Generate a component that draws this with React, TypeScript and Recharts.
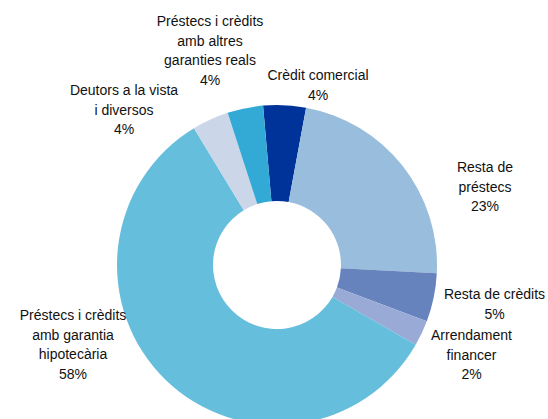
import { PieChart, Pie, Cell } from 'recharts'

const categories = [
  'Crèdit comercial',
  'Resta de préstecs',
  'Resta de crèdits',
  'Arrendament financer',
  'Préstecs i crèdits amb garantia hipotecària',
  'Deutors a la vista i diversos',
  'Préstecs i crèdits amb altres garanties reals'
]
const shares = [4.3, 22.9, 4.9, 2.6, 58.0, 3.7, 3.6]
const shareLabels = ['4%', '23%', '5%', '2%', '58%', '4%', '4%']
const labelLines = [
  ['Crèdit comercial'],
  ['Resta de', 'préstecs'],
  ['Resta de crèdits'],
  ['Arrendament', 'financer'],
  ['Préstecs i crèdits', 'amb garantia', 'hipotecària'],
  ['Deutors a la vista', 'i diversos'],
  ['Préstecs i crèdits', 'amb altres', 'garanties reals']
]

const colors = ['#003399', '#99bddc', '#6683bd', '#99aad6', '#66bedd', '#ccd6e9', '#33aad5']

// label anchors, relative to the pie centre (first line centre)
const labelOffsets: [number, number][] = [
  [41, -190],
  [208, -98],
  [217.5, 29],
  [194.5, 70],
  [-204, 50],
  [-153, -175],
  [-67, -244]
]

const LINE_H = 19.5

const data = categories.map((name, i) => ({ name, value: shares[i] }))

function renderLabel(props: any) {
  const { cx, cy, index } = props
  const [dx, dy] = labelOffsets[index]
  const lines = [...labelLines[index], shareLabels[index]]
  const x = cx + dx
  const y0 = cy + dy + 5
  return (
    <text
      key={`lbl-${index}`}
      x={x}
      y={y0}
      textAnchor="middle"
      fill="#111"
      fontSize={14}
      fontFamily="'Liberation Sans', Arial, sans-serif"
    >
      {lines.map((l, k) => (
        <tspan key={k} x={x} y={y0 + k * LINE_H}>
          {l}
        </tspan>
      ))}
    </text>
  )
}

export default function App() {
  return (
    <div style={{ position: 'fixed', left: 0, top: 0, background: '#fff' }}>
      <PieChart width={548} height={419} margin={{ top: 0, right: 0, bottom: 0, left: 0 }}>
        <Pie
          data={data}
          dataKey="value"
          nameKey="name"
          cx={277}
          cy={265}
          innerRadius={64}
          outerRadius={160}
          startAngle={95}
          endAngle={-265}
          stroke="none"
          label={renderLabel}
          labelLine={false}
          isAnimationActive={false}
        >
          {data.map((d, i) => (
            <Cell key={d.name} fill={colors[i]} />
          ))}
        </Pie>
      </PieChart>
    </div>
  )
}
